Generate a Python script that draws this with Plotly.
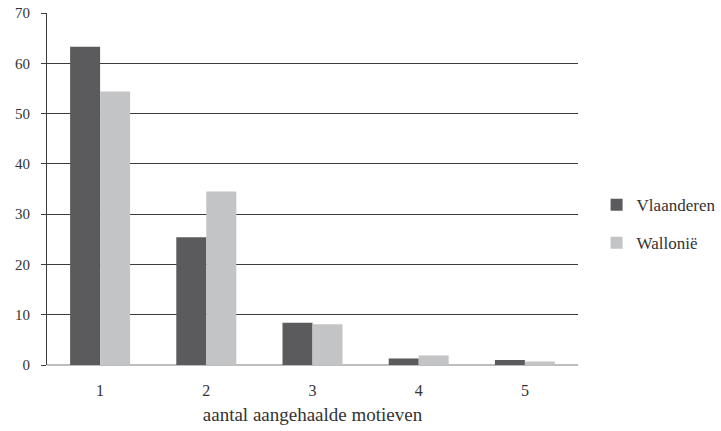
import plotly.graph_objects as go

categories = ["1", "2", "3", "4", "5"]
vlaanderen = [63.3, 25.4, 8.4, 1.3, 1.0]
wallonie = [54.4, 34.5, 8.1, 1.9, 0.7]
y_ticks = [0, 10, 20, 30, 40, 50, 60, 70]

FONT = "Liberation Serif"
fig = go.Figure()
fig.add_trace(go.Bar(x=categories, y=vlaanderen, name="Vlaanderen",
                     marker=dict(color="#5b5b5d", line=dict(width=0)), legendgroup="a"))
fig.add_trace(go.Bar(x=categories, y=wallonie, name="Wallonië",
                     marker=dict(color="#c3c4c6", line=dict(width=0)), legendgroup="b"))

fig.update_layout(
    width=721, height=431,
    margin=dict(l=47, r=143, t=13, b=66, autoexpand=False),
    paper_bgcolor="white", plot_bgcolor="white",
    barmode="group", bargap=0.435, bargroupgap=0,
    font=dict(family=FONT, size=14, color="#333333"),
    legend=dict(x=1.035, xanchor="left", y=0.40, yanchor="middle",
                tracegroupgap=13, font=dict(family=FONT, size=17, color="#333333"),
                itemwidth=30),
    showlegend=True,
)
fig.update_yaxes(range=[0, 70.03], tickvals=y_ticks, showgrid=True, gridcolor="#3c3c3c", gridwidth=1,
                 showline=True, linecolor="#3c3c3c", linewidth=1,
                 ticks="outside", ticklen=5, tickcolor="#3c3c3c", automargin=False,
                 zeroline=True, zerolinecolor="#bdbdbd", zerolinewidth=2,
                 ticklabeloverflow="allow",
                 ticklabelstandoff=8, tickfont=dict(family=FONT, size=15, color="#333333"))
fig.update_xaxes(showgrid=False, showline=False, ticks="", automargin=False,
                 tickfont=dict(family=FONT, size=16, color="#333333"),
                 ticklabelstandoff=14,
                 title=dict(text="aantal aangehaalde motieven", standoff=9,
                            font=dict(family=FONT, size=19, color="#333333")))
fig.write_html("out.html", post_script="document.body.style.margin='0';",
               config={"displayModeBar": False})
